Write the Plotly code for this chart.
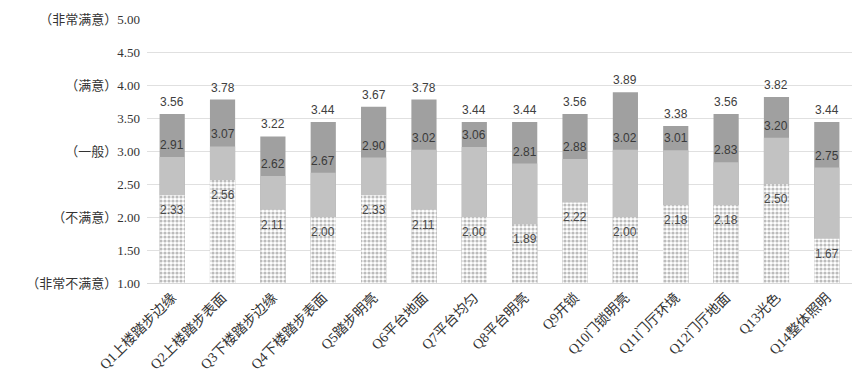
import plotly.graph_objects as go

categories = ["Q1上楼踏步边缘", "Q2上楼踏步表面", "Q3下楼踏步边缘", "Q4下楼踏步表面",
              "Q5踏步明亮", "Q6平台地面", "Q7平台均匀", "Q8平台明亮", "Q9开锁",
              "Q10门锁明亮", "Q11门厅环境", "Q12门厅地面", "Q13光色", "Q14整体照明"]
top_vals = [3.56, 3.78, 3.22, 3.44, 3.67, 3.78, 3.44, 3.44, 3.56, 3.89, 3.38, 3.56, 3.82, 3.44]
mid_vals = [2.91, 3.07, 2.62, 2.67, 2.90, 3.02, 3.06, 2.81, 2.88, 3.02, 3.01, 2.83, 3.20, 2.75]
low_vals = [2.33, 2.56, 2.11, 2.00, 2.33, 2.11, 2.00, 1.89, 2.22, 2.00, 2.18, 2.18, 2.50, 1.67]
y_tickvals = [1.0, 1.5, 2.0, 2.5, 3.0, 3.5, 4.0, 4.5, 5.0]
y_ticktext = ["（非常不满意）1.00", "1.50", "（不满意）2.00", "2.50", "（一般）3.00",
              "3.50", "（满意）4.00", "4.50", "（非常满意）5.00"]

serif = "Liberation Serif, Noto Sans CJK SC, serif"
sans = "Liberation Sans, Arial, sans-serif"

fig = go.Figure()
fig.add_trace(go.Bar(x=categories, y=top_vals, marker=dict(color="#a0a0a0", line=dict(width=0)),
                     width=0.5, showlegend=False, hoverinfo="skip"))
fig.add_trace(go.Bar(x=categories, y=mid_vals, marker=dict(color="#c2c2c2", line=dict(width=0)),
                     width=0.5, showlegend=False, hoverinfo="skip"))
fig.add_trace(go.Bar(x=categories, y=low_vals,
                     marker=dict(color="white", line=dict(width=0),
                                 pattern=dict(shape=".", fgcolor="#7a7a7a", bgcolor="white",
                                              size=4, solidity=0.5)),
                     width=0.5, showlegend=False, hoverinfo="skip"))

for c, t, m, l in zip(categories, top_vals, mid_vals, low_vals):
    fig.add_annotation(x=c, y=t, text=f"{t:.2f}", showarrow=False, yshift=12,
                       font=dict(family=sans, size=12, color="#404040"))
    fig.add_annotation(x=c, y=m, text=f"{m:.2f}", showarrow=False, yshift=12,
                       font=dict(family=sans, size=12, color="#3a3a3a"))
    fig.add_annotation(x=c, y=l, text=f"{l:.2f}", showarrow=False, yshift=-15,
                       font=dict(family=sans, size=12, color="#4a4a4a"))

fig.update_layout(
    width=855, height=383,
    margin=dict(l=147, r=3, t=19, b=100),
    barmode="overlay", bargap=0.5,
    plot_bgcolor="white", paper_bgcolor="white",
    xaxis=dict(tickangle=-45, tickfont=dict(family=serif, size=14, color="#333"),
               showline=True, linecolor="#d9d9d9", ticks="", showgrid=False),
    yaxis=dict(range=[1, 5], tickvals=y_tickvals, ticktext=y_ticktext,
               tickfont=dict(family=serif, size=13, color="#333"),
               showgrid=True, gridcolor="#e0e0e0", zeroline=False, showline=False,
               ticks="", ticklabelstandoff=6),
)

fig.write_html("out.html", config={"displayModeBar": False},
               post_script="document.body.style.margin='0';")
